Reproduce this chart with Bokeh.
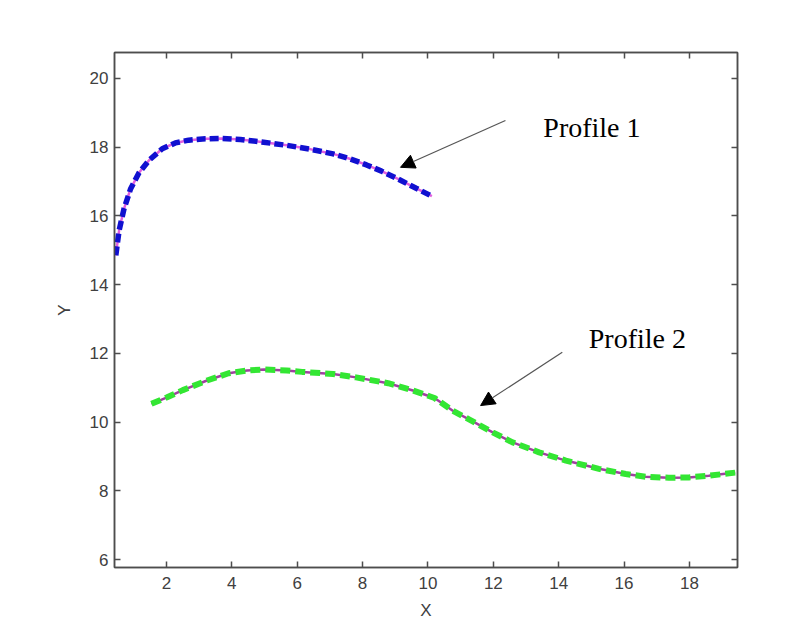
from bokeh.plotting import figure
from bokeh.models import (Range1d, LinearAxis, FixedTicker, Arrow, NormalHead,
                          Label, CustomJSTickFormatter)
from bokeh.embed import file_html
from bokeh.resources import INLINE

# ---- data ----
profile1_x = [0.45, 0.55, 0.70, 0.90, 1.16, 1.46, 1.87, 2.27, 2.68, 3.19, 3.70,
              4.26, 4.97, 5.68, 6.39, 7.10, 7.61, 8.12, 8.58, 9.13, 9.64, 10.12]
profile1_y = [14.85, 15.57, 16.20, 16.78, 17.25, 17.61, 17.95, 18.12, 18.20, 18.24, 18.25,
              18.22, 18.14, 18.05, 17.94, 17.80, 17.66, 17.48, 17.30, 17.05, 16.80, 16.57]

profile2_x = [1.54, 2.02, 2.50, 3.24, 3.90, 4.46, 5.00, 5.68, 6.15, 7.10, 7.80,
              8.78, 9.54, 10.20, 10.76, 11.37, 11.98, 12.59, 13.40, 14.22, 15.23,
              16.05, 16.66, 17.37, 17.98, 18.59, 19.40]
profile2_y = [10.53, 10.72, 10.93, 11.21, 11.42, 11.50, 11.53, 11.50, 11.46, 11.40, 11.30,
              11.13, 10.92, 10.70, 10.33, 10.02, 9.70, 9.41, 9.12, 8.88, 8.64,
              8.49, 8.41, 8.38, 8.39, 8.44, 8.53]

x_ticks = [2, 4, 6, 8, 10, 12, 14, 16, 18]
y_ticks = [6, 8, 10, 12, 14, 16, 18, 20]

label1 = "Profile 1"
label2 = "Profile 2"

AX_COLOR = "#4d4d4d"
TICK_LABEL_COLOR = "#404040"

p = figure(width=797, height=630, output_backend="svg", toolbar_location=None,
           x_range=Range1d(0.41, 19.47), y_range=Range1d(5.77, 20.75),
           min_border_left=114, min_border_right=60, min_border_top=52,
           min_border_bottom=63, background_fill_color="white",
           border_fill_color="white", x_axis_label="X", y_axis_label="Y")
p.grid.visible = False
p.outline_line_color = AX_COLOR
p.outline_line_width = 1.5


def style_axis(ax, ticks, show_labels=True):
    ax.ticker = FixedTicker(ticks=ticks)
    ax.axis_line_color = AX_COLOR
    ax.axis_line_width = 1.5
    ax.major_tick_line_color = AX_COLOR
    ax.major_tick_line_width = 1.5
    ax.major_tick_in = 6
    ax.major_tick_out = 0
    ax.minor_tick_line_color = None
    ax.major_label_text_font = "Liberation Sans"
    ax.major_label_text_font_size = "17px"
    ax.major_label_text_color = TICK_LABEL_COLOR
    ax.axis_label_text_font = "Liberation Sans"
    ax.axis_label_text_font_size = "17px"
    ax.axis_label_text_font_style = "normal"
    ax.axis_label_text_color = TICK_LABEL_COLOR
    if not show_labels:
        ax.formatter = CustomJSTickFormatter(code="return ''")


xa = p.xaxis[0]
ya = p.yaxis[0]
style_axis(xa, x_ticks)
style_axis(ya, y_ticks)
xa.major_label_standoff = 9
xa.axis_label_standoff = 9
ya.major_label_standoff = 6
ya.axis_label_standoff = 13

top_ax = LinearAxis()
style_axis(top_ax, x_ticks, show_labels=False)
p.add_layout(top_ax, "above")
right_ax = LinearAxis()
style_axis(right_ax, y_ticks, show_labels=False)
p.add_layout(right_ax, "right")

# Profile 1: thin magenta line under a thick blue dashed line
p.line(profile1_x, profile1_y, line_color="#e060e0", line_width=2.5)
p.line(profile1_x, profile1_y, line_color="#1010d0", line_width=5.5, line_dash="9 4")

# Profile 2: thin purple line under a thick green dashed line
p.line(profile2_x, profile2_y, line_color="#a040a0", line_width=2.5)
p.line(profile2_x, profile2_y, line_color="#33e633", line_width=6, line_dash="10 5")

# Annotations
for (xs, ys, xe, ye) in [(12.37, 18.77, 9.16, 17.41), (14.11, 12.03, 11.61, 10.48)]:
    p.add_layout(Arrow(end=NormalHead(size=14, fill_color="black", line_color="black"),
                       x_start=xs, y_start=ys, x_end=xe, y_end=ye,
                       line_color="#555555", line_width=1.2))

for txt, tx, ty in [(label1, 13.53, 18.575), (label2, 14.92, 12.42)]:
    p.add_layout(Label(x=tx, y=ty, text=txt, text_font="Liberation Serif",
                       text_font_size="28px", text_color="black",
                       text_align="left", text_baseline="alphabetic"))

open("out.html", "w").write(file_html(p, INLINE))
